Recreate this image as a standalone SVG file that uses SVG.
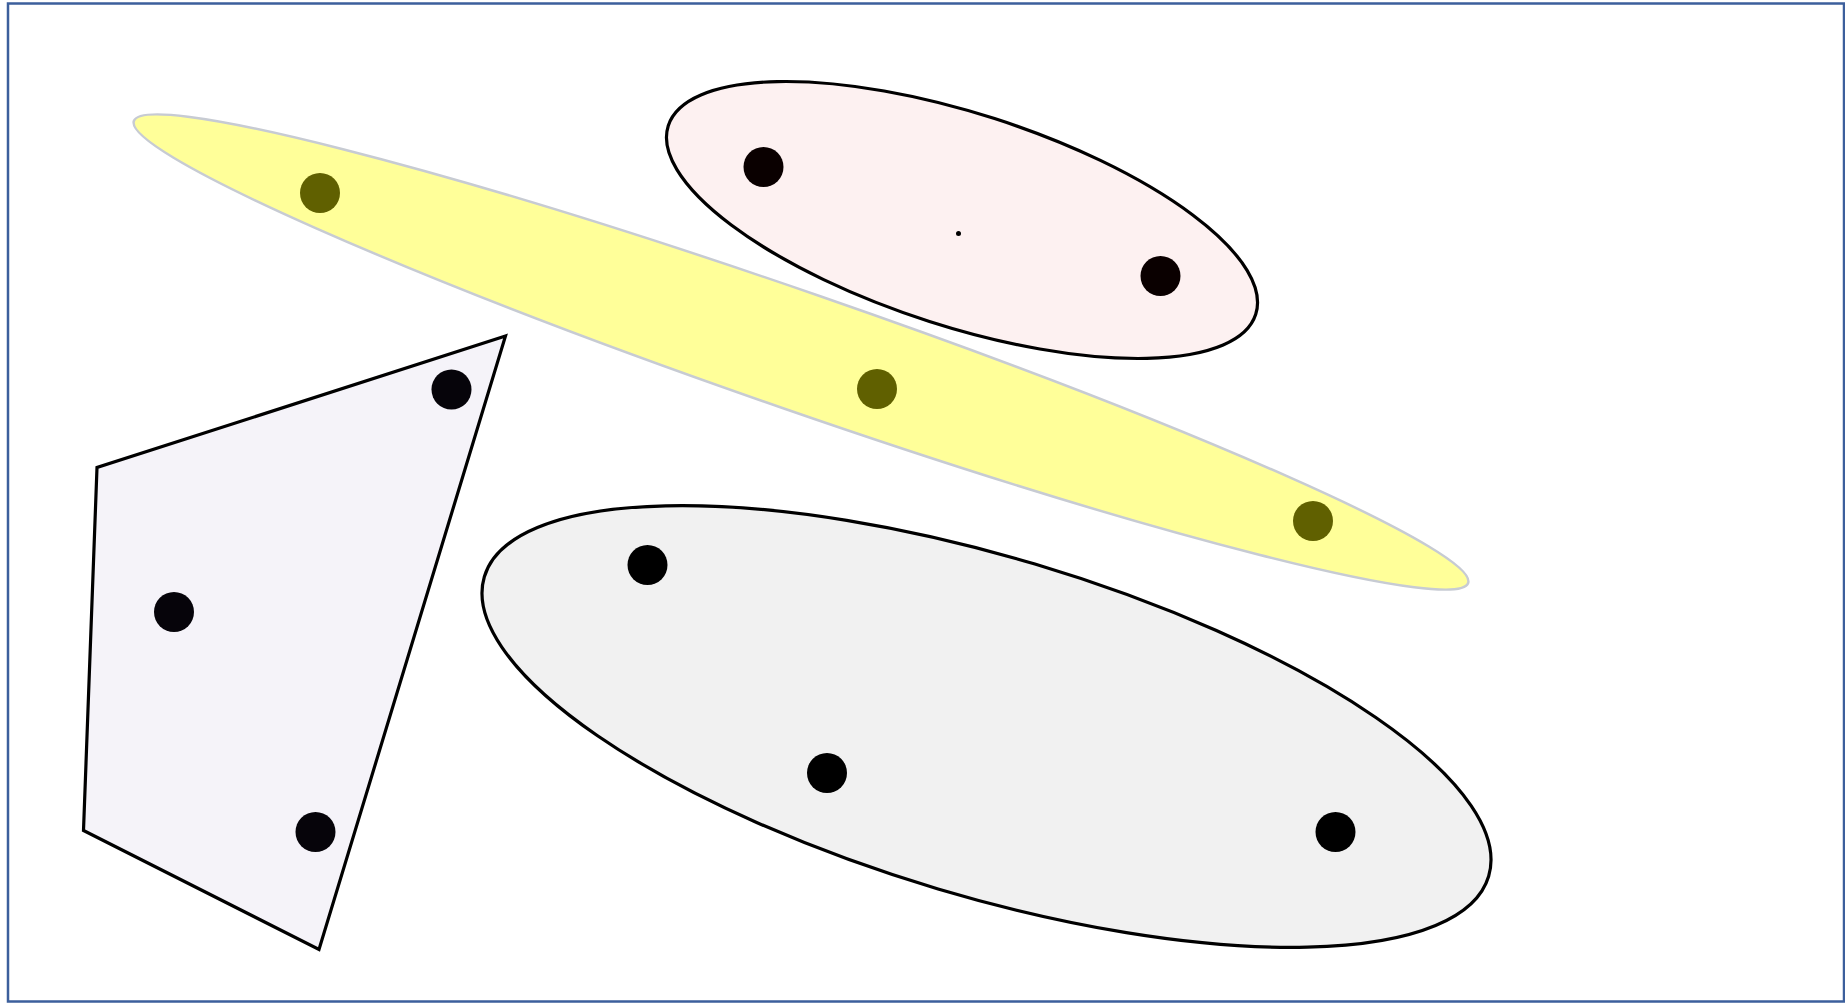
<svg xmlns="http://www.w3.org/2000/svg" width="1845" height="1003" viewBox="0 0 1845 1003">
<style>
.frame{fill:#ffffff;stroke:#3c5f9c;stroke-width:2.5}
.region{stroke:#000000;stroke-width:3.2;stroke-linejoin:miter}
.band{fill:#ffff99;stroke:#c7cbd3;stroke-width:2.5}
.dot{stroke:none}
</style>
<rect class="frame" x="8" y="3.5" width="1836" height="998"/>
<g id="yellow-group">
<ellipse class="band" cx="801" cy="352" rx="706" ry="59" transform="rotate(19.1 801 352)"/>
<circle class="dot" cx="320" cy="193" r="20" fill="#606000"/>
<circle class="dot" cx="877" cy="389" r="20" fill="#606000"/>
<circle class="dot" cx="1313" cy="521" r="20" fill="#606000"/>
</g>
<g id="pink-group">
<ellipse class="region" fill="#fdf1f1" cx="962" cy="220" rx="308.5" ry="106.5" transform="rotate(17.8 962 220)"/>
<circle class="dot" cx="763.5" cy="167" r="20" fill="#0a0000"/>
<circle class="dot" cx="1160.5" cy="276" r="20" fill="#0a0000"/>
<circle class="dot" cx="958.5" cy="233.5" r="2.5" fill="#000000"/>
</g>
<g id="gray-group">
<ellipse class="region" fill="#f1f1f1" cx="986.5" cy="726.5" rx="524" ry="169.5" transform="rotate(16.6 986.5 726.5)"/>
<circle class="dot" cx="647.5" cy="565" r="20" fill="#000000"/>
<circle class="dot" cx="827" cy="773" r="20" fill="#000000"/>
<circle class="dot" cx="1335.5" cy="832" r="20" fill="#000000"/>
</g>
<g id="polygon-group">
<polygon class="region" fill="#f5f3f9" points="505.5,336 97,467.5 83.5,830.5 319,949.5"/>
<circle class="dot" cx="451.5" cy="389.5" r="20" fill="#06040a"/>
<circle class="dot" cx="174" cy="612" r="20" fill="#06040a"/>
<circle class="dot" cx="315.5" cy="832" r="20" fill="#06040a"/>
</g>
<g id="connectors"></g>
</svg>
